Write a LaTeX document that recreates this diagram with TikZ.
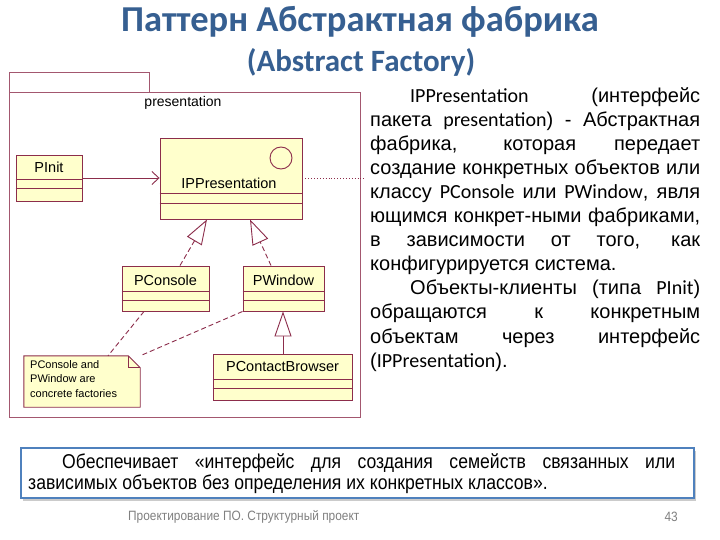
\documentclass[tikz,border=0pt]{standalone}
\usepackage{fontspec}
\setmainfont{Liberation Sans}
\newfontfamily\calfont{Carlito}
\newfontfamily\narrowfont[FakeStretch=0.88]{Liberation Sans}
\usetikzlibrary{arrows.meta,shadows}
\definecolor{umlred}{RGB}{140,45,75}
\definecolor{umlfill}{RGB}{255,255,204}
\definecolor{titleblue}{RGB}{54,95,145}
\definecolor{boxblue}{RGB}{79,129,189}
\newcommand\lat[1]{{\calfont #1}}
\newcommand\jline[1]{\makebox[330pt][s]{#1}}
\newcommand\lline[1]{\makebox[330pt][l]{#1}}
\begin{document}
\begin{tikzpicture}[x=1pt,y=-1pt,
  cls/.style={draw=umlred, fill=umlfill, line width=0.9pt, rectangle, inner sep=0pt},
  clsname/.style={font=\fontsize{14.5}{16}\selectfont, inner sep=0pt},
  pkg/.style={draw=umlred!80, line width=0.8pt, rectangle, inner sep=0pt, anchor=north west},
  assoc/.style={draw=umlred, line width=0.9pt, -{Straight Barb[length=7pt,width=13pt]}},
  realiz/.style={draw=umlred, line width=0.9pt, dash pattern=on 5pt off 3pt, -{Triangle[length=25pt,width=17pt,fill=white,line width=0.9pt]}},
  gener/.style={draw=umlred, line width=0.9pt, -{Triangle[length=25pt,width=17pt,fill=white,line width=0.9pt]}},
  notelink/.style={draw=umlred, line width=0.9pt, dash pattern=on 5pt off 3pt},
  comp/.style={draw=umlred, line width=0.9pt}
]
\useasboundingbox (0,0) rectangle (720,540);
\fill[white] (0,0) rectangle (720,540);

% title
\node[font=\calfont\bfseries\fontsize{36.5}{42}\selectfont, text=titleblue, inner sep=0pt] (t1) at (360,22) {Паттерн Абстрактная фабрика};
\node[font=\calfont\bfseries\fontsize{31}{36}\selectfont, text=titleblue, inner sep=0pt] (t2) at (361,62) {(Abstract Factory)};

% package
\node[pkg, minimum width=140pt, minimum height=20pt] (tab) at (9,72) {};
\node[pkg, minimum width=351pt, minimum height=325pt] (pkg) at (9,92) {};
\node[font=\fontsize{14}{16}\selectfont, inner sep=0pt] (pkgname) at (183,103) {presentation};

% IPPresentation
\node[cls, minimum width=142pt, minimum height=81pt] (ipp) at (231,178.5) {};
\node[clsname] (ippn) at (229,183) {IPPresentation};
\node[draw=umlred, line width=0.9pt, circle, minimum size=22pt, inner sep=0pt] (ippc) at (281,158) {};
\draw[comp] (ipp.west |- 0,193) -- (ipp.east |- 0,193);
\draw[comp] (ipp.west |- 0,203) -- (ipp.east |- 0,203);

% PInit
\node[cls, minimum width=66pt, minimum height=46pt] (pinit) at (49,178) {};
\node[clsname] (pinitn) at (49,167) {PInit};
\draw[comp] (pinit.west |- 0,179) -- (pinit.east |- 0,179);
\draw[comp] (pinit.west |- 0,188) -- (pinit.east |- 0,188);

% PConsole
\node[cls, minimum width=87pt, minimum height=45pt] (pcon) at (165.5,288.5) {};
\node[clsname] (pconn) at (165.5,280) {PConsole};
\draw[comp] (pcon.west |- 0,291) -- (pcon.east |- 0,291);
\draw[comp] (pcon.west |- 0,300) -- (pcon.east |- 0,300);

% PWindow
\node[cls, minimum width=81pt, minimum height=45pt] (pwin) at (283.5,288.5) {};
\node[clsname] (pwinn) at (283.5,280) {PWindow};
\draw[comp] (pwin.west |- 0,291) -- (pwin.east |- 0,291);
\draw[comp] (pwin.west |- 0,300) -- (pwin.east |- 0,300);

% PContactBrowser
\node[cls, minimum width=139pt, minimum height=46pt] (pcb) at (282.5,377) {};
\node[clsname] (pcbn) at (282.5,367) {PContactBrowser};
\draw[comp] (pcb.west |- 0,379) -- (pcb.east |- 0,379);
\draw[comp] (pcb.west |- 0,388) -- (pcb.east |- 0,388);

% note
\node[minimum width=116pt, minimum height=51pt, inner sep=0pt] (note) at (82,381.5) {};
\filldraw[draw=umlred, fill=umlfill, line width=0.9pt]
  (note.north west) -- ([xshift=-12pt]note.north east) -- ([yshift=-12pt]note.north east)
  -- (note.south east) -- (note.south west) -- cycle;
\draw[umlred, line width=0.9pt] ([xshift=-12pt]note.north east) -- ([xshift=-12pt,yshift=-12pt]note.north east) -- ([yshift=-12pt]note.north east);
\node[anchor=north west, align=left, inner sep=0pt, font=\fontsize{11}{14.5}\selectfont] (notetext) at (30,360) {PConsole and\\PWindow are\\concrete factories};

% connectors
\draw[assoc] (pinit.east |- 0,178) -- (ipp.west |- 0,178);
\coordinate (dotend) at (364,178);
\draw[umlred, line width=0.9pt, dotted] (ipp.east |- 0,178) -- (dotend);
\draw[realiz] (pcon.north -| 180,0) -- (ipp.south -| 207,0);
\draw[realiz] (pwin.north -| 271,0) -- (ipp.south -| 250,0);
\draw[gener] (pcb.north -| 283,0) -- (pwin.south -| 283,0);
\draw[notelink] (pcon.south -| 144,0) -- (note.north -| 108,0);
\draw[notelink] (pwin.south west) -- (note.north east);

% right text
\node[anchor=north west, inner sep=0pt, align=left, font=\fontsize{20}{24.1}\selectfont] (desc) at (370,87) {%
\jline{\hspace*{40pt}\lat{IPPresentation} (интерфейс}\\
\jline{пакета \lat{presentation}) - Абстрактная}\\
\jline{фабрика, которая передает}\\
\jline{создание конкретных объектов или}\\
\jline{классу \lat{PConsole} или \lat{PWindow}, явля}\\
\jline{ющимся конкрет-ными фабриками,}\\
\jline{в зависимости от того, как}\\
\lline{конфигурируется система.}\\
\jline{\hspace*{40pt}Объекты-клиенты (типа \lat{PInit})}\\
\jline{обращаются к конкретным}\\
\jline{объектам через интерфейс}\\
\lline{(\lat{IPPresentation}).}};

% bottom box
\node[draw=boxblue, line width=2pt, fill=white, rectangle, minimum width=673pt, minimum height=50pt, anchor=north west,
  drop shadow={shadow xshift=2pt, shadow yshift=-3pt, fill=black!40}] (quote) at (20,447) {};
\node[anchor=north west, inner sep=0pt, align=left, font=\narrowfont\fontsize{20}{21}\selectfont] (quotetext) at (28,453) {%
\makebox[647pt][s]{\hspace*{34pt}Обеспечивает «интерфейс для создания семейств связанных или}\\
зависимых объектов без определения их конкретных классов».};

% footer
\node[anchor=west, inner sep=0pt, text=black!50, font=\narrowfont\fontsize{13.5}{15}\selectfont] (footer) at (128,517) {Проектирование ПО. Структурный проект};
\node[anchor=east, inner sep=0pt, text=black!50, font=\narrowfont\fontsize{13.5}{15}\selectfont] (pagenum) at (678,517) {43};
\end{tikzpicture}
\end{document}
